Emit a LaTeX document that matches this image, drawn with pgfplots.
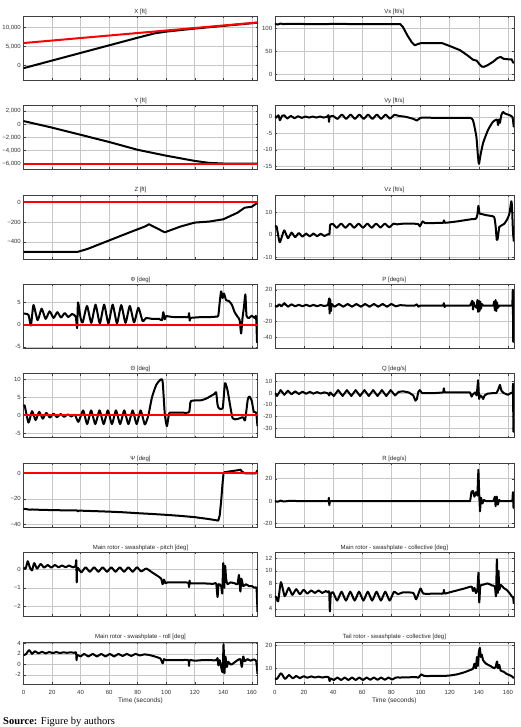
\documentclass[border=0pt]{standalone}
\usepackage{fontspec}
\setmainfont{Liberation Sans}
\newfontfamily\srcfont{Liberation Serif}
\usepackage{pgfplots}
\pgfplotsset{compat=1.18}

\pgfplotsset{
  every axis title shift=0pt,
  every axis title/.style={at={(0.5,1)}, anchor=south, inner sep=1.5pt,
    font=\fontsize{6}{7}\selectfont, text=black!85},
  panel/.style={scale only axis, anchor=north west, height=64pt,
    xmin=0, xmax=164, xtick={0,20,...,160}, xticklabels={},
    scaled y ticks=false, scaled x ticks=false,
    grid=major, major grid style={black!22, line width=0.5pt},
    axis line style={black!75, line width=0.5pt},
    tick style={black!75, line width=0.4pt}, tick align=inside,
    major tick length=2pt,
    ticklabel style={font=\fontsize{6}{7}\selectfont, text=black!80},
    yticklabel style={inner sep=2.5pt}},
  lcol/.style={at={(23.5pt,#1)}, width=234pt},
  rcol/.style={at={(274.8pt,#1)}, width=239pt},
  bottom/.style={height=42.5pt,
    xticklabels={0,20,40,60,80,100,120,140,160},
    xticklabel style={yshift=-2.5pt},
    xlabel={Time (seconds)},
    xlabel style={at={(axis description cs:0.5,0)}, anchor=center,
      yshift=-16.7pt, font=\fontsize{6.5}{7.5}\selectfont, text=black!85}},
  sig/.style={black, line width=2pt, line join=round},
  osc/.style={sig, smooth, tension=0.35},
  tgt/.style={red, line width=2pt},
}

\begin{document}
\begin{tikzpicture}
\useasboundingbox (0,0) rectangle (520pt,-727pt);

% ---------- left column ----------
\begin{axis}[panel, lcol=-16pt, title={X [ft]}, ymin=-3800, ymax=13000,
  ytick={0,5000,10000}, yticklabels={0,{5,000},{10,000}}]
\addplot[sig] coordinates {(0,-700) (20,1300) (40,3300) (60,5300) (80,7300)
  (92,8450) (100,8900) (110,9300) (120,9700) (130,10050) (140,10400)
  (150,10750) (164,11250)};
\addplot[tgt] coordinates {(0,5900) (164,11300)};
\end{axis}

\begin{axis}[panel, lcol=-105.4pt, title={Y [ft]}, ymin=-6900, ymax=2900,
  ytick={-6000,-4000,-2000,0,2000},
  yticklabels={{−6,000},{−4,000},{−2,000},0,{2,000}}]
\addplot[sig] coordinates {(0,500) (20,-500) (40,-1600) (60,-2700) (80,-3900)
  (100,-4800) (120,-5600) (130,-5900) (140,-6000) (164,-6000)};
\addplot[tgt] coordinates {(0,-6020) (164,-6020)};
\end{axis}

\begin{axis}[panel, lcol=-194.8pt, title={Z [ft]}, ymin=-570, ymax=75,
  ytick={-400,-200,0}, yticklabels={−400,−200,0}]
\addplot[sig] coordinates {(0,-500) (38,-500) (45,-470) (60,-385) (75,-300)
  (85,-245) (88,-222) (99,-303) (110,-245) (120,-205) (130,-195) (140,-172)
  (150,-105) (155,-55) (160,-45) (164,-5)};
\addplot[tgt] coordinates {(0,0) (164,0)};
\end{axis}

\begin{axis}[panel, lcol=-284.2pt, title={Φ [deg]}, ymin=-5.3, ymax=9.1,
  ytick={-5,0,5}, yticklabels={-5,0,5}]
\addplot[osc] coordinates {(0,2.5) (3.5,2.2) (5.2,-0.2) (7,4.4) (9.9,1.0)
  (12.7,3.6) (15.5,1.3) (18.3,3.0) (21.1,1.5) (23.7,2.8) (26.3,1.6) (28.9,2.6)
  (31.4,1.7) (34,2.4) (36.6,1.8) (37.6,-0.8) (38.2,5.0) (40,1.5) (41.5,0.5)
  (44.5,4.2) (47.5,0.4) (50.5,4.5) (53.5,0.3) (56.5,4.5) (59.5,0.3) (62.5,4.5)
  (65.5,0.3) (68.5,4.4) (71.5,0.4) (74.5,4.2) (77.5,0.5) (80.5,3.8) (83.5,0.8)
  (86,1.5) (90,1.3) (95,1.3) (97,1.0) (98,2.8) (99,1.2) (100,1.9) (105,1.7)
  (110,1.7) (115.5,1.7) (116,2.6) (116.5,0.9) (117,1.5) (120,1.6) (125,1.7)
  (130,1.7) (135,1.8) (136.5,2.0) (137.5,5) (138.5,7.5) (139.5,6) (140.5,7)
  (142,5.5) (144,5.3) (146,4.5) (148,2.8) (150,1.8) (151.5,1.0) (152.5,-2)
  (153.5,1.5) (154.5,4) (155.5,6.8) (156.3,2) (158,1.5) (160,2) (162,1.5)
  (163,1.8) (163.7,-4) (164,-1)};
\addplot[tgt] coordinates {(0,0) (164,0)};
\end{axis}

\begin{axis}[panel, lcol=-373.6pt, title={Θ [deg]}, ymin=-6.2, ymax=11.7,
  ytick={-5,0,5,10}, yticklabels={-5,0,5,10}]
\addplot[osc] coordinates {(0,2.5) (0.8,2.8) (3.5,-2.0) (6,1.2) (8.5,-1.3)
  (11,1.0) (13.5,-0.9) (16,0.7) (18.5,-0.6) (21,0.5) (23.5,-0.5) (26,0.4)
  (28.5,-0.4) (31,0.3) (33.5,-0.3) (36,0.2) (38.5,-1.8) (41.8,1.4) (44.6,-2.4)
  (47.4,1.4) (50.3,-2.4) (53.3,1.4) (56.2,-2.4) (59.1,1.4) (62,-2.4) (64.8,1.4)
  (67.7,-2.4) (70.6,1.4) (73.5,-2.4) (76.5,1.4) (79.3,-2.4) (82.1,1.4) (85,-2.5)
  (87.5,0) (90,5) (93,8.5) (96,10) (97.5,9.5) (99,0.5) (100.5,-3) (102,0.5)
  (103.5,0.8) (110,0.8) (116,0.9) (117.3,4.0) (124,4.2) (128,4.7) (133.7,6)
  (135,6.5) (136,3) (137,2) (139.6,2) (141.2,9) (143,7) (144.3,4) (146.6,-0.8)
  (150,-1) (153.7,-0.5) (155.3,-1.3) (157.2,4.5) (158.4,5.3) (160,4) (161.4,1)
  (163,0.8) (164,-3)};
\addplot[tgt] coordinates {(0,0) (164,0)};
\end{axis}

\begin{axis}[panel, lcol=-463pt, title={Ψ [deg]}, ymin=-42, ymax=8,
  ytick={-40,-20,0}, yticklabels={−40,−20,0}]
\addplot[sig] coordinates {(0,-27.8) (2,-28) (4,-28.5) (6,-28.3) (10,-28.5)
  (20,-28.8) (30,-29) (37.5,-29) (38,-29.8) (39,-29.2) (50,-29.6) (60,-30)
  (70,-30.5) (80,-31.2) (90,-31.8) (100,-32.5) (110,-33.3) (120,-34.3)
  (130,-35.8) (136.5,-37) (137.5,-33) (138.5,-22) (139.5,-8) (140.2,0)
  (141,0.8) (145,1.5) (150,2.3) (152,2.8) (153,1.5) (155,0) (160,-0.2)
  (163,0) (163.7,2) (164,2)};
\addplot[tgt] coordinates {(0,0) (164,0)};
\end{axis}

\begin{axis}[panel, lcol=-552.4pt, title={Main rotor - swashplate - pitch [deg]},
  ymin=-2.55, ymax=0.93, ytick={-2,-1,0}, yticklabels={−2,−1,0}]
\addplot[osc] coordinates {(0,0.1) (1.5,0.05) (3,0.45) (4.5,0.1) (6,-0.05)
  (7.5,0.35) (9.5,0.05) (12,0.3) (14.5,0.1) (17,0.25) (19.5,0.1) (22,0.25)
  (24.5,0.12) (27,0.22) (29.5,0.12) (32,0.22) (34.5,0.12) (36.5,0.2) (37,0.5)
  (37.3,-0.7) (37.7,0.1) (40.5,-0.15) (43.5,0.12) (46.5,-0.12) (49.5,0.12)
  (52.5,-0.12) (55.5,0.12) (58.5,-0.12) (61.5,0.12) (64.5,-0.12) (67.5,0.12)
  (70.5,-0.12) (73.5,0.12) (76.5,-0.12) (79.5,0.12) (82.5,-0.1) (86,0.05)
  (90,-0.15) (94,-0.35) (96.5,-0.5) (97.5,-0.8) (98.5,-0.55) (99.5,-0.75)
  (101,-0.7) (110,-0.7) (115.5,-0.72) (116,-0.95) (116.5,-0.6) (117,-0.75)
  (125,-0.75) (133,-0.78) (135,-0.75) (136,-1.5) (136.7,-0.8) (138.5,-0.9)
  (139.3,-1.3) (140,0.35) (140.7,-1.0) (141.3,0.2) (142,-0.5) (143,-0.8)
  (145,-0.7) (148,-0.75) (150,-0.8) (151,-0.3) (152,-1.2) (152.7,-0.5)
  (154,-0.9) (156,-0.8) (158,-0.9) (160,-0.9) (162,-1.0) (163.3,-1.0)
  (164,-2.3)};
\end{axis}

\begin{axis}[panel, bottom, lcol=-641.8pt, title={Main rotor - swashplate - roll [deg]},
  ymin=-3.8, ymax=4.3, ytick={-2,0,2,4}, yticklabels={-2,0,2,4}]
\addplot[osc] coordinates {(0,1.8) (1.5,1.9) (4,2.7) (6,2.0) (8,2.5) (10.5,2.1)
  (13,2.4) (15.5,2.1) (18,2.35) (20.5,2.15) (23,2.35) (25.5,2.15) (28,2.3)
  (30.5,2.2) (33,2.3) (35.5,2.2) (36.8,2.3) (37.2,0.8) (37.6,1.8) (40,1.5)
  (42.5,2.0) (45.5,1.5) (48.5,2.0) (51.5,1.5) (54.5,2.0) (57.5,1.5) (60.5,2.0)
  (63.5,1.5) (66.5,2.0) (69.5,1.6) (72.5,2.0) (75.5,1.6) (78.5,2.0) (81.5,1.7)
  (84.5,1.9) (88,1.8) (92,1.5) (96,1.1) (97.5,0.2) (98.5,1.0) (100,0.8)
  (110,0.8) (115.5,0.8) (116,-0.3) (116.5,0.8) (120,0.7) (125,0.8) (130,0.8)
  (135,0.8) (136,1.2) (136.6,-0.2) (137.5,0.8) (139.5,-1.5) (140.2,3.8)
  (140.8,-1.7) (141.5,1.5) (142.5,-0.5) (143.5,0.5) (145,0) (146,0) (148,0.4)
  (150,0.8) (152,1.0) (153,-0.5) (154,1.5) (155,0.6) (157,1.0) (159,0.7)
  (161,0.9) (163,0.7) (164,-1.8)};
\end{axis}

% ---------- right column ----------
\begin{axis}[panel, rcol=-16pt, title={Vx [ft/s]}, ymin=-12.3, ymax=127.5,
  ytick={0,50,100}, yticklabels={0,50,100}]
\addplot[sig] coordinates {(0,110) (2,109) (4,111) (6,109.5) (8,110.5)
  (20,110) (37,110) (38,110.5) (50,110) (70,110) (84,110) (86,110) (88,103)
  (91,85) (94,70) (96,63.5) (98,66) (100,68) (110,68) (115,68) (120,62)
  (127,53) (132,42) (136,32) (138.5,30) (140.5,22) (142,17) (143.5,16.5)
  (146,20) (150,28) (153,36) (155,38) (157,34) (160,33) (162.5,33)
  (163.5,26) (164,25)};
\end{axis}

\begin{axis}[panel, rcol=-105.4pt, title={Vy [ft/s]}, ymin=-16, ymax=3.5,
  ytick={-15,-10,-5,0}, yticklabels={-15,-10,-5,0}]
\addplot[osc] coordinates {(0,0.2) (1,-0.2) (2.5,0.5) (3.5,-1.0) (5,0.3)
  (6.5,0.5) (8.5,-0.5) (11,0.3) (13.5,-0.4) (16,0.2) (18.5,-0.3) (21,0.1)
  (23.5,-0.2) (26,0.1) (28.5,-0.2) (31,0.1) (33.5,-0.2) (36,0.1) (36.8,0.5)
  (37.2,-1.5) (37.7,0) (40,0.3) (43,-0.6) (46,0.7) (49,-0.6) (52,0.7)
  (55,-0.6) (58,0.7) (61,-0.6) (64,0.7) (67,-0.6) (70,0.7) (73,-0.6) (76,0.7)
  (79,-0.5) (82,0.6) (85,0.3) (90,0) (95,-0.6) (97.5,-1.1) (99.5,-0.4)
  (102,-0.2) (110,-0.3) (120,-0.3) (130,-0.3) (134,-0.3) (136,-1) (138.3,-6)
  (139.4,-12) (140.1,-14.3) (141,-12) (142.9,-8) (146.3,-4) (149.7,-1.5)
  (152.5,-0.8) (153.2,-2.5) (153.8,-0.8) (154.5,-1.8) (155.4,0.5) (156.6,1.5)
  (158,1.0) (160,0.7) (163,0) (164,-3.2)};
\end{axis}

\begin{axis}[panel, rcol=-194.8pt, title={Vz [ft/s]}, ymin=-10.7, ymax=17.9,
  ytick={-10,0,10}, yticklabels={-10,0,10}]
\addplot[osc] coordinates {(0,3.5) (1.2,3.8) (3.4,-3.3) (6.4,2.0) (9,-1.5)
  (11.5,1.0) (14,-1.0) (16.5,0.8) (19,-0.8) (21.5,0.6) (24,-0.7) (26.5,0.6)
  (29,-0.6) (31.5,0.5) (34,-0.5) (36.5,0.3) (37.5,0.3) (38,4.5) (40,4.8)
  (42.5,3.2) (45.5,5.0) (48.5,3.2) (51.5,5.0) (54.5,3.2) (57.5,5.0) (60.5,3.2)
  (63.5,5.0) (66.5,3.2) (69.5,5.0) (72.5,3.3) (75.5,5.0) (78.5,3.4) (81.5,5.0)
  (84,4.7) (88,5.0) (95,5.0) (98.5,4.8) (99.5,3.8) (101.5,6.0) (103,5.3)
  (110,5.3) (115.5,5.4) (116,6.5) (116.7,5.4) (120,5.6) (125,6.0) (130,6.5)
  (135,7.0) (138,7.2) (139,9) (139.7,13) (140.5,9.5) (142,9.3) (145,8.8)
  (148,8.5) (150.5,8) (151.5,4) (152.3,-2.2) (153,-1.5) (154,3.5) (155,4)
  (157.5,5) (159.5,7) (161,9.5) (162.3,15) (162.8,12) (163.4,2) (164,-3)};
\end{axis}

\begin{axis}[panel, rcol=-284.2pt, title={P [deg/s]}, ymin=-54, ymax=27,
  ytick={-40,-20,0,20}, yticklabels={-40,-20,0,20}]
\addplot[sig] coordinates {(0,0) (1.5,-1.5) (3,1.5) (4.5,-1) (6.5,3) (9,-1.5)
  (11.5,1.5) (14,-1) (16.5,1) (19,-1) (21.5,1) (24,-0.8) (26.5,0.8) (29,-0.8)
  (31.5,0.6) (34,-0.6) (36.5,0.5) (37.3,9) (37.6,-10) (38,8) (38.5,-7)
  (39,2) (41,-1.5) (44,2) (47,-1.5) (50,2) (53,-1.5) (56,2) (59,-1.5) (62,2)
  (65,-1.5) (68,2) (71,-1.5) (74,2) (77,-1.5) (80,2) (83,-1) (86,0.5) (90,0)
  (96,0) (97.5,1.5) (98.5,-1.5) (100,0) (110,0) (115.5,0) (116,3) (116.5,-2)
  (117,0) (125,0) (134,0) (135.5,6) (136,-5) (136.5,4) (137,0) (138.5,-3)
  (139,7) (139.5,-8) (140,6) (140.5,-7) (141,5) (141.5,-4) (142,2) (143,0)
  (150,0) (150.5,5) (151,-6) (151.5,7) (152,-7) (152.5,4) (153,-3) (154,0)
  (163,0) (163.3,20) (163.6,-46) (164,-5)};
\end{axis}

\begin{axis}[panel, rcol=-373.6pt, title={Q [deg/s]}, ymin=-38, ymax=16.6,
  ytick={-30,-20,-10,0,10}, yticklabels={-30,-20,-10,0,10}]
\addplot[sig] coordinates {(0,0) (1.5,-2.5) (4,2.5) (6.5,-1.5) (9,2) (11.5,-1)
  (14,1.5) (16.5,-0.8) (19,1.2) (21.5,-0.6) (24,1) (26.5,-0.5) (29,0.8)
  (31.5,-0.4) (34,0.6) (36.5,-0.3) (37.3,-2) (38,0.5) (40.5,-2.5) (43.5,2.5)
  (46.5,-2.5) (49.5,2.5) (52.5,-2.5) (55.5,2.5) (58.5,-2.5) (61.5,2.5)
  (64.5,-2.5) (67.5,2.5) (70.5,-2.5) (73.5,2.5) (76.5,-2.5) (79.5,2.5)
  (82.5,-2) (85,1) (88,1.5) (92,0.5) (95,-2) (96.5,-6.5) (97.5,-5) (98.5,1)
  (99.5,2.5) (101,0) (110,0) (115.5,0.5) (116,4) (116.5,0.5) (125,0.5)
  (134,0.5) (135,-3) (136,-1) (137.5,0.5) (138.5,-2) (139.5,11) (140.2,-5)
  (141,-2) (142,-3) (143,-5) (144,-2) (146,-0.5) (150,0) (152,0) (153,2)
  (154.5,7) (155.5,2) (157,0) (160,-1.5) (162,0) (163.2,0) (163.5,8)
  (163.7,-33) (164,-5)};
\end{axis}

\begin{axis}[panel, rcol=-463pt, title={R [deg/s]}, ymin=-23, ymax=34,
  ytick={-20,0,20}, yticklabels={-20,0,20}]
\addplot[sig] coordinates {(0,0) (2,-0.5) (4,0.5) (6,-0.3) (10,0.3) (20,0)
  (36.8,0) (37.1,3) (37.4,-3.5) (37.8,0) (134,0) (135,8.5) (136,9) (137,4)
  (138,8) (139,5) (139.7,28) (140.3,5) (140.8,-9) (141.5,3) (142.5,-2)
  (143.5,1) (145,0) (150,0) (151,4) (151.5,-4.5) (152.3,4) (153,-3) (154,1)
  (155,0) (163,0) (163.4,8) (163.8,-6) (164,-2)};
\end{axis}

\begin{axis}[panel, rcol=-552.4pt, title={Main rotor - swashplate - collective [deg]},
  ymin=2.8, ymax=12.9, ytick={4,6,8,10,12}, yticklabels={4,6,8,10,12}]
\addplot[osc] coordinates {(0,6.0) (1,5.8) (2.3,5.2) (4.2,8.2) (6.8,6.0)
  (9.5,7.3) (12,6.2) (14.7,7.1) (17.2,6.3) (19.8,7.0) (22.3,6.4) (25,6.9)
  (27.5,6.5) (30,6.9) (32.5,6.5) (35,6.8) (36.5,6.6) (37.3,6.7) (37.8,3.6)
  (38.4,6.3) (40,6.6) (42.8,5.3) (45.8,6.7) (48.8,5.3) (51.8,6.7) (54.8,5.3)
  (57.8,6.7) (60.8,5.3) (63.8,6.7) (66.8,5.3) (69.8,6.7) (72.8,5.3) (75.8,6.7)
  (78.8,5.3) (81.8,6.7) (84.5,6.3) (88,6.6) (95,6.5) (97,5.5) (100,7.2)
  (102,6.4) (110,6.4) (115.5,6.4) (116,7.0) (116.6,6.4) (120,6.6) (125,6.9)
  (130,7.2) (135,7.5) (136,6.8) (137,7.3) (138,6.5) (139,7.0) (139.8,9.7)
  (140.3,5.0) (141,7.6) (143,7.8) (146,8.0) (149,7.7) (151,7.5) (151.8,6.0)
  (152.4,11.8) (153,6.5) (153.5,10) (154,7) (155,7.8) (157,7.3) (159,7)
  (161,6.5) (162.5,6.0) (163.5,5.8) (164,4.8)};
\end{axis}

\begin{axis}[panel, bottom, rcol=-641.8pt, title={Tail rotor - swashplate - collective [deg]},
  ymin=2.9, ymax=21.7, ytick={10,20}, yticklabels={10,20}]
\addplot[osc] coordinates {(0,5.5) (1.5,5.3) (4.3,7.8) (7,5.3) (9.8,7.0)
  (12.3,5.5) (14.7,6.6) (17.2,5.6) (19.8,6.5) (22.3,5.8) (25,6.4) (27.5,5.9)
  (30,6.3) (32.5,5.9) (35,6.2) (37,6.0) (37.6,4.3) (38.5,5.5) (40.5,4.8)
  (43,5.9) (45.5,4.8) (48,5.9) (50.5,4.8) (53,5.9) (55.5,4.8) (58,5.9)
  (60.5,4.8) (63,5.9) (65.5,4.9) (68,5.9) (70.5,4.9) (73,5.9) (75.5,4.9)
  (78,5.9) (80.5,5.0) (83,5.9) (86,5.9) (92,6.0) (97,6.1) (98.5,5.8)
  (100.5,7.3) (102.5,6.6) (110,6.6) (116,6.6) (120,6.8) (125,7.3) (130,8.2)
  (134,9.2) (136,9.8) (137,12) (138,10) (138.7,15) (139.3,11) (140,17)
  (140.7,19) (141.3,15) (142,16) (143,13.5) (145,12) (148,11) (150.5,10)
  (151.5,10.5) (152.5,13) (153.2,10) (154,11.5) (155,9) (157,8.5) (159,7.5)
  (161,7) (162.5,6.5) (163.5,6) (164,5.5)};
\end{axis}

\node[anchor=west, inner sep=0pt, font=\srcfont\fontsize{10.5}{12}\selectfont]
  at (3pt,-721.5pt) {\textbf{Source:} Figure by authors};
\end{tikzpicture}
\end{document}
